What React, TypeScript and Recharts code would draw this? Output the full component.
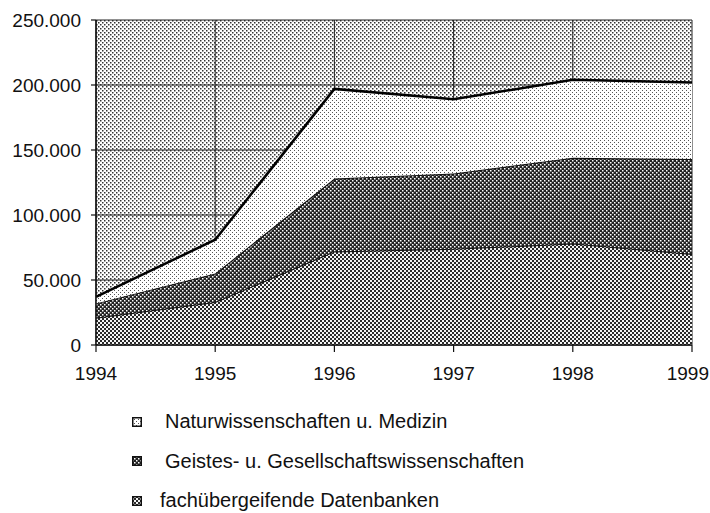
import React from "react";
import { AreaChart, Area, XAxis, YAxis, CartesianGrid } from "recharts";

const years = ["1994", "1995", "1996", "1997", "1998", "1999"];
// values (number of databases)
const datenbanken = [21000, 33000, 72000, 74000, 78000, 70000];
const geistes = [11000, 22000, 56000, 58000, 66000, 73000];
const natur = [5000, 26000, 69000, 57000, 60000, 59000];
const yTicks = [0, 50000, 100000, 150000, 200000, 250000];

const legendItems = [
  { key: "natur", label: "Naturwissenschaften u. Medizin", pattern: "pNatur" },
  { key: "geistes", label: "Geistes- u. Gesellschaftswissenschaften", pattern: "pGeistes" },
  { key: "datenbanken", label: "fachübergeifende Datenbanken", pattern: "pDaten" },
];

const data = years.map((year, i) => ({
  year,
  datenbanken: datenbanken[i],
  geistes: geistes[i],
  natur: natur[i],
}));

const FONT = "'Liberation Sans', Arial, sans-serif";

// german thousands separator
const fmt = (v: number) => String(v).replace(/\B(?=(\d{3})+(?!\d))/g, ".");

// year label; the last one is kept inside the page
function YearTick(props: any) {
  const { x, y, payload } = props;
  const half = 21;
  const atEdge = x + half > 709;
  return (
    <text
      x={atEdge ? 709 : x}
      y={y}
      dy="0.71em"
      textAnchor={atEdge ? "end" : "middle"}
      fontSize={19}
      fill="#111"
      fontFamily={FONT}
    >
      {payload.value}
    </text>
  );
}

function Patterns() {
  return (
    <defs>
      <pattern id="pBg" width={4} height={4} patternUnits="userSpaceOnUse">
        <rect width={4} height={4} fill="#ffffff" />
        <rect x={0} y={0} width={1.5} height={1.5} fill="#333" />
        <rect x={2} y={2} width={1.5} height={1.5} fill="#333" />
      </pattern>
      <pattern id="pNatur" width={4} height={4} patternUnits="userSpaceOnUse">
        <rect width={4} height={4} fill="#ffffff" />
        <rect x={0} y={0} width={1} height={1} fill="#555" />
        <rect x={2} y={2} width={1} height={1} fill="#555" />
      </pattern>
      <pattern id="pGeistes" width={4} height={4} patternUnits="userSpaceOnUse">
        <rect width={4} height={4} fill="#222" />
        <rect x={0} y={0} width={1.5} height={1.5} fill="#fff" />
        <rect x={2} y={2} width={1.5} height={1.5} fill="#fff" />
      </pattern>
      <pattern id="pDaten" width={4} height={4} patternUnits="userSpaceOnUse">
        <rect width={4} height={4} fill="#f4f4f4" />
        <rect x={0} y={0} width={2} height={2} fill="#2a2a2a" />
        <rect x={2} y={2} width={2} height={2} fill="#2a2a2a" />
      </pattern>
    </defs>
  );
}

export default function App() {
  return (
    <div
      style={{
        position: "absolute",
        left: 0,
        top: 0,
        width: 710,
        height: 513,
        background: "#fff",
        fontFamily: FONT,
        overflow: "hidden",
      }}
    >
      <AreaChart
        width={710}
        height={400}
        data={data}
        margin={{ top: 20, right: 18, bottom: 0, left: 0 }}
      >
        <Patterns />
        <CartesianGrid
          stroke="#222"
          strokeWidth={1}
          fill="url(#pBg)"
          fillOpacity={1}
        />
        <XAxis
          dataKey="year"
          height={55}
          tickSize={7}
          tickMargin={15}
          interval={0}
          axisLine={{ stroke: "#111", strokeWidth: 1.5 }}
          tickLine={{ stroke: "#111", strokeWidth: 1.2 }}
          tick={<YearTick />}
        />
        <YAxis
          width={96}
          domain={[0, 250000]}
          ticks={yTicks}
          interval={0}
          tickSize={5}
          tickMargin={10}
          tickFormatter={fmt}
          axisLine={{ stroke: "#111", strokeWidth: 1.5 }}
          tickLine={{ stroke: "#111", strokeWidth: 1.2 }}
          tick={{ fontSize: 19, fill: "#111", fontFamily: FONT }}
        />
        <Area
          type="linear"
          dataKey="datenbanken"
          stackId="a"
          stroke="#111"
          strokeWidth={2}
          fill="url(#pDaten)"
          fillOpacity={1}
          isAnimationActive={false}
        />
        <Area
          type="linear"
          dataKey="geistes"
          stackId="a"
          stroke="#111"
          strokeWidth={2}
          fill="url(#pGeistes)"
          fillOpacity={1}
          isAnimationActive={false}
        />
        <Area
          type="linear"
          dataKey="natur"
          stackId="a"
          stroke="#000"
          strokeWidth={2.5}
          fill="url(#pNatur)"
          fillOpacity={1}
          isAnimationActive={false}
        />
      </AreaChart>
      <div style={{ position: "absolute", left: 132, top: 402 }}>
        {legendItems.map((item, i) => (
          <div
            key={item.key}
            style={{ display: "flex", alignItems: "center", height: 39.5 }}
          >
            <svg width={10} height={10} style={{ marginRight: i === 2 ? 18 : 23 }}>
              <rect
                x={0.75}
                y={0.75}
                width={8.5}
                height={8.5}
                fill={`url(#${item.pattern})`}
                stroke="#111"
                strokeWidth={1.5}
              />
            </svg>
            <span style={{ fontSize: 20, color: "#111" }}>{item.label}</span>
          </div>
        ))}
      </div>
    </div>
  );
}
